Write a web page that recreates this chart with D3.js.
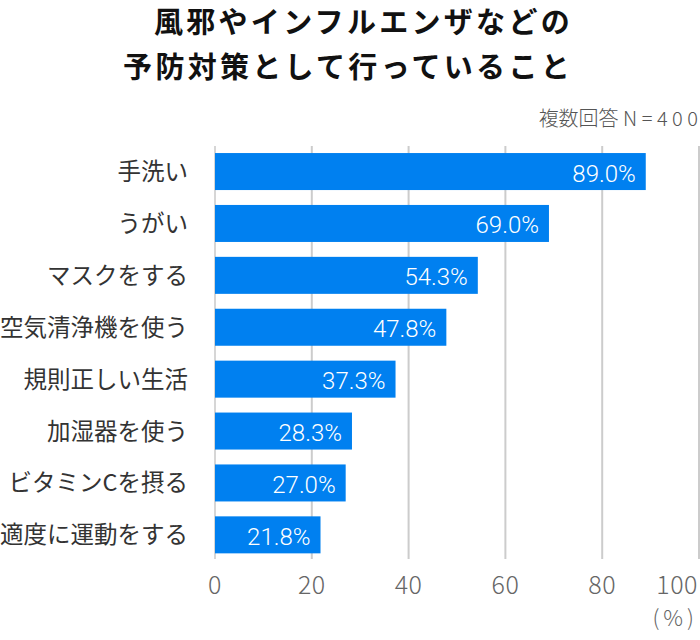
<!DOCTYPE html>
<html>
<head>
<meta charset="utf-8">
<script src="https://cdn.jsdelivr.net/npm/d3@7"></script>
<style>
  html, body { margin: 0; padding: 0; background: #fff; }
  svg { display: block; }
</style>
</head>
<body>
<svg id="chart" width="700" height="640"></svg>
<script>
const titleLines = ["風邪やインフルエンザなどの", "予防対策として行っていること"];
const note = ["複数回答", "N=400"];
const categories = ["手洗い", "うがい", "マスクをする", "空気清浄機を使う", "規則正しい生活", "加湿器を使う", "ビタミンCを摂る", "適度に運動をする"];
const values = [89.0, 69.0, 54.3, 47.8, 37.3, 28.3, 27.0, 21.8];
const xTicks = [0, 20, 40, 60, 80, 100];
const unitLabel = "(%)";

const svg = d3.select("#chart");
const cjk = "'Noto Sans CJK JP', 'Noto Sans', sans-serif";
const num = "Roboto, 'Noto Sans', sans-serif";

const x = d3.scaleLinear().domain([0, 100]).range([215, 699]);
const y = d3.scaleBand().domain(categories).range([145.6, 560.8]).paddingInner(0.287).paddingOuter(0.1435);

// title
svg.append("g").selectAll("text").data(titleLines).join("text")
  .attr("x", 573)
  .attr("y", (d, i) => 33 + i * 45)
  .attr("text-anchor", "end")
  .attr("font-family", cjk)
  .attr("font-weight", "bold")
  .attr("font-size", 29)
  .attr("letter-spacing", 3.3)
  .attr("fill", "#111")
  .text(d => d);

// note
const nt = svg.append("text")
  .attr("x", 698).attr("y", 126)
  .attr("text-anchor", "end")
  .attr("font-family", cjk)
  .attr("font-weight", 300)
  .attr("font-size", 20)
  .attr("fill", "#555");
nt.append("tspan").attr("letter-spacing", 0).text(note[0] + " ");
nt.append("tspan").attr("letter-spacing", 4.5).text(note[1].slice(0, -1));
nt.append("tspan").text(note[1].slice(-1));

// grid
svg.append("g").selectAll("line").data(xTicks).join("line")
  .attr("x1", d => x(d)).attr("x2", d => x(d))
  .attr("y1", 146).attr("y2", 559)
  .attr("stroke", d => d === 0 ? "#d6d6d6" : "#cccccc")
  .attr("stroke-width", 2);

// bars
svg.append("g").selectAll("rect").data(values).join("rect")
  .attr("x", x(0))
  .attr("y", (d, i) => y(categories[i]))
  .attr("width", d => x(d) - x(0))
  .attr("height", y.bandwidth())
  .attr("fill", "#0080f0");

// value labels
svg.append("g").selectAll("text").data(values).join("text")
  .attr("x", d => x(d) - 10)
  .attr("y", (d, i) => y(categories[i]) + y.bandwidth() / 2 + 10)
  .attr("text-anchor", "end")
  .attr("font-family", num)
  .attr("font-weight", 300)
  .attr("font-size", 24)
  .attr("fill", "#fff")
  .text(d => d.toFixed(1) + "%");

// category labels
svg.append("g").selectAll("text").data(categories).join("text")
  .attr("x", 188)
  .attr("y", d => y(d) + y.bandwidth() / 2)
  .attr("dy", "0.36em")
  .attr("text-anchor", "end")
  .attr("font-family", cjk)
  .attr("font-size", 23.5)
  .attr("fill", "#333")
  .text(d => d);

// tick labels
svg.append("g").selectAll("text").data(xTicks).join("text")
  .attr("x", (d, i) => i === xTicks.length - 1 ? 698 : x(d))
  .attr("y", 594)
  .attr("text-anchor", (d, i) => i === xTicks.length - 1 ? "end" : "middle")
  .attr("font-family", cjk)
  .attr("font-weight", 300)
  .attr("font-size", 25)
  .attr("letter-spacing", 0.5)
  .attr("fill", "#666")
  .text(d => d);

svg.append("text")
  .attr("x", 698).attr("y", 626)
  .attr("text-anchor", "end")
  .attr("font-family", cjk)
  .attr("font-weight", 300)
  .attr("font-size", 22)
  .attr("letter-spacing", 4)
  .attr("fill", "#666")
  .text(unitLabel);
</script>
</body>
</html>
